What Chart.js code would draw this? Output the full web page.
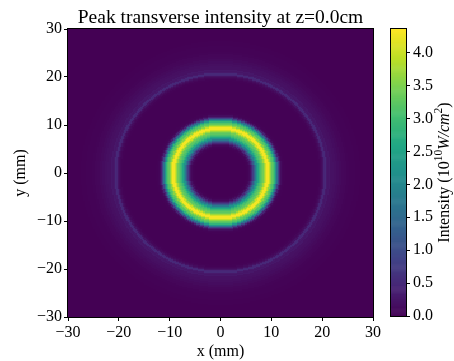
<!DOCTYPE html>
<html>
<head>
<meta charset="utf-8">
<script src="https://cdn.jsdelivr.net/npm/chart.js@4.4.1/dist/chart.umd.min.js"></script>
<style>
html, body { margin: 0; padding: 0; background: #fff; }
#wrap { position: relative; width: 454px; height: 361px; }
#main { position: absolute; left: 0; top: 0; }
#cbar { position: absolute; left: 380px; top: 0; }
</style>
</head>
<body>
<div id="wrap">
  <canvas id="main" width="454" height="361"></canvas>
  <canvas id="cbar" width="74" height="361"></canvas>
</div>
<script>
// radial intensity profile (mm -> 10^10 W/cm^2)
const profileRadius = [0, 5.0, 5.25, 5.5, 5.75, 6.0, 6.25, 6.5, 6.75, 7.0, 7.25, 7.5, 7.75, 8.0, 8.25, 8.5,
    8.75, 9.0, 9.25, 9.5, 9.75, 10.0, 10.25, 10.5, 10.75, 11.0, 11.25, 11.5, 11.75, 12.0, 12.25, 12.5, 13.0,
    19.0, 19.5, 19.75, 20.0, 20.25, 20.5, 20.75, 21.0, 21.25, 21.5, 21.75, 22.0, 22.5, 23.0, 23.5, 24.0,
    24.5, 25.0, 25.5, 26.0, 27.0, 28.0, 43.0];
const profileIntensity = [0, 0, 0.01, 0.03, 0.08, 0.2, 0.45, 0.8, 1.25, 1.75, 2.2, 2.6, 2.9, 3.1, 3.25, 3.4,
    3.7, 4.05, 4.3, 4.3, 4.0, 3.6, 3.3, 3.15, 2.85, 2.3, 1.6, 0.9, 0.4, 0.15, 0.05, 0.02, 0.01,
    0.01, 0.03, 0.06, 0.12, 0.22, 0.45, 0.5, 0.3, 0.25, 0.28, 0.2, 0.2, 0.17, 0.14, 0.11, 0.08,
    0.06, 0.04, 0.03, 0.02, 0.01, 0, 0];

const xTicks = [-30, -20, -10, 0, 10, 20, 30];
const yTicks = [-30, -20, -10, 0, 10, 20, 30];
const cbarTicks = [0, 0.5, 1.0, 1.5, 2.0, 2.5, 3.0, 3.5, 4.0];
const cbarMax = 4.36;
const cellSize = 0.25;
const titleText = 'Peak transverse intensity at z=0.0cm';

const viridis = ['#440154', '#482475', '#414487', '#355f8d', '#2a788e', '#21918c',
    '#22a884', '#44bf70', '#7ad151', '#bddf26', '#fde725'];
const viridisRgb = viridis.map(h => [1, 3, 5].map(i => parseInt(h.substr(i, 2), 16)));

function colorFor(v) {
    let t = Math.min(1, Math.max(0, v / cbarMax)) * (viridis.length - 1);
    const i = Math.min(viridis.length - 2, Math.floor(t));
    const f = t - i;
    const a = viridisRgb[i], b = viridisRgb[i + 1];
    return 'rgb(' + a.map((c, k) => Math.round(c + (b[k] - c) * f)).join(',') + ')';
}

function profileAt(r) {
    let best = 0;
    for (let i = 1; i < profileRadius.length; i++) {
        if (Math.abs(profileRadius[i] - r) < Math.abs(profileRadius[best] - r)) best = i;
    }
    return profileIntensity[best];
}

const cells = [];
const n = Math.round(60 / cellSize);
for (let i = 0; i < n; i++) {
    for (let j = 0; j < n; j++) {
        const x = -30 + (i + 0.5) * cellSize;
        const y = -30 + (j + 0.5) * cellSize;
        cells.push({ x: x, y: y, v: profileAt(Math.hypot(x, y)) });
    }
}

const serif = 'Liberation Serif';
const fontSize = 16;
const minus = v => (v < 0 ? '\u2212' + Math.abs(v) : String(v));

const heatmapPlugin = {
    id: 'heatmap',
    beforeDatasetsDraw(chart) {
        const { ctx, chartArea: a, scales: { x, y } } = chart;
        const cache = {};
        ctx.save();
        ctx.beginPath();
        ctx.rect(a.left, a.top, a.width, a.height);
        ctx.clip();
        chart.data.datasets[0].data.forEach(c => {
            const x0 = Math.round(x.getPixelForValue(c.x - cellSize / 2));
            const x1 = Math.round(x.getPixelForValue(c.x + cellSize / 2));
            const y0 = Math.round(y.getPixelForValue(c.y + cellSize / 2));
            const y1 = Math.round(y.getPixelForValue(c.y - cellSize / 2));
            if (x1 <= x0 || y1 <= y0) return;
            ctx.fillStyle = cache[c.v] || (cache[c.v] = colorFor(c.v));
            ctx.fillRect(x0, y0, x1 - x0, y1 - y0);
        });
        ctx.restore();
    },
    afterDraw(chart) {
        const { ctx, chartArea: a } = chart;
        ctx.save();
        ctx.strokeStyle = '#000';
        ctx.lineWidth = 1;
        ctx.strokeRect(a.left - 0.5, a.top - 0.5, a.width + 1, a.height + 1);
        ctx.fillStyle = '#000';
        ctx.font = '19.5px "' + serif + '"';
        ctx.textAlign = 'center';
        ctx.textBaseline = 'alphabetic';
        ctx.fillText(titleText, (a.left + a.right) / 2, 23);
        ctx.restore();
    }
};

function axis(ticks, title, fit) {
    return {
        type: 'linear',
        min: -30,
        max: 30,
        afterBuildTicks: s => { s.ticks = ticks.map(v => ({ value: v })); },
        afterFit: fit,
        ticks: { color: '#000', font: { family: serif, size: fontSize }, padding: 2, maxRotation: 0,
            callback: v => minus(v) },
        grid: { display: true, drawOnChartArea: false, drawTicks: true, tickLength: 4, color: '#000' },
        border: { display: true, color: '#000' },
        title: { display: true, text: title, color: '#000', font: { family: serif, size: fontSize } }
    };
}

const xAxis = axis(xTicks, 'x (mm)', s => { s.height = 44; });
xAxis.title.padding = { top: 0, bottom: 0 };
const yAxis = axis(yTicks, 'y (mm)', s => { s.width = 68; });
yAxis.title.padding = { top: 11, bottom: 0 };

new Chart(document.getElementById('main'), {
    type: 'scatter',
    data: { datasets: [{ data: cells, pointRadius: 0, pointHoverRadius: 0 }] },
    options: {
        responsive: false,
        animation: false,
        events: [],
        layout: { padding: { top: 29, right: 81, bottom: 0, left: 0 } },
        scales: { x: xAxis, y: yAxis },
        plugins: {
            legend: { display: false },
            tooltip: { enabled: false },
            title: { display: false }
        }
    },
    plugins: [heatmapPlugin]
});

// colour bar
const colorbarPlugin = {
    id: 'colorbar',
    beforeDatasetsDraw(chart) {
        const { ctx, chartArea: a, scales: { y } } = chart;
        const steps = 300;
        for (let k = 0; k < steps; k++) {
            const v0 = cbarMax * k / steps, v1 = cbarMax * (k + 1) / steps;
            const p0 = y.getPixelForValue(v0), p1 = y.getPixelForValue(v1);
            ctx.fillStyle = colorFor((v0 + v1) / 2);
            ctx.fillRect(a.left, p1, a.width, p0 - p1 + 0.6);
        }
    },
    afterDraw(chart) {
        const { ctx, chartArea: a } = chart;
        ctx.save();
        ctx.strokeStyle = '#000';
        ctx.lineWidth = 1;
        ctx.strokeRect(a.left - 0.5, a.top - 0.5, a.width + 1, a.height + 1);

        // rotated label with superscripts
        const parts = [
            { t: 'Intensity (10', f: '16px "' + serif + '"', dy: 0 },
            { t: '10', f: '11.5px "' + serif + '"', dy: -6 },
            { t: 'W/cm', f: 'italic 16px "' + serif + '"', dy: 0 },
            { t: '2', f: '11.5px "' + serif + '"', dy: -6 },
            { t: ')', f: '16px "' + serif + '"', dy: 0 }
        ];
        let total = 0;
        parts.forEach(p => { ctx.font = p.f; p.w = ctx.measureText(p.t).width; total += p.w; });
        ctx.translate(65, (a.top + a.bottom) / 2);
        ctx.rotate(-Math.PI / 2);
        ctx.fillStyle = '#000';
        ctx.textBaseline = 'middle';
        let px = -total / 2;
        parts.forEach(p => { ctx.font = p.f; ctx.fillText(p.t, px, p.dy); px += p.w; });
        ctx.restore();
    }
};

new Chart(document.getElementById('cbar'), {
    type: 'scatter',
    data: { datasets: [{ data: [], pointRadius: 0 }] },
    options: {
        responsive: false,
        animation: false,
        events: [],
        layout: { padding: { top: 29, right: 0, bottom: 45, left: 11 } },
        scales: {
            x: { display: false, min: 0, max: 1 },
            y: {
                position: 'right',
                min: 0,
                max: cbarMax,
                afterBuildTicks: s => { s.ticks = cbarTicks.map(v => ({ value: v })); },
                afterFit: s => { s.width = 48; },
                ticks: { color: '#000', font: { family: serif, size: fontSize }, padding: 3,
                    callback: v => v.toFixed(1) },
                grid: { display: true, drawOnChartArea: false, drawTicks: true, tickLength: 4, color: '#000' },
                border: { display: true, color: '#000' }
            }
        },
        plugins: { legend: { display: false }, tooltip: { enabled: false } }
    },
    plugins: [colorbarPlugin]
});
</script>
</body>
</html>
